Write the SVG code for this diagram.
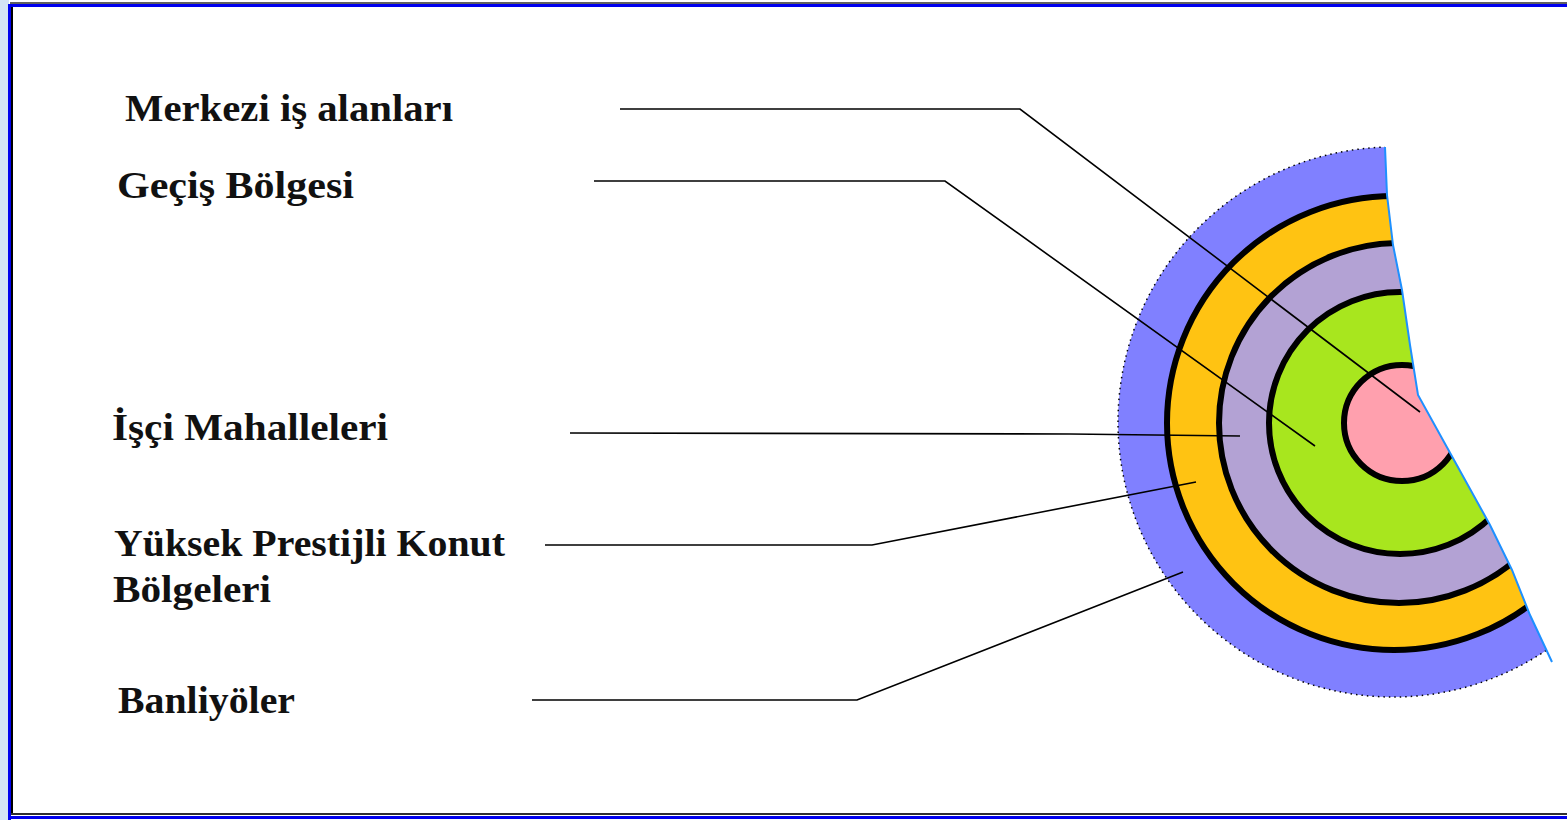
<svg xmlns="http://www.w3.org/2000/svg" width="1567" height="820" viewBox="0 0 1567 820">
  <style>
    .lbl { font-family: "Liberation Serif", "Times New Roman", serif; font-weight: bold; font-size: 38px; fill: #111; }
    .lead { fill: none; stroke: #000; stroke-width: 1.6; }
    .ring { stroke: #000; stroke-width: 6; }
  </style>
  <defs>
    <clipPath id="cut">
      <polygon points="1000,100 1385,100 1385,147 1387,195 1393,245 1402,290 1410,345 1418,395 1454,460 1490,525 1512,570 1530,615 1552,662 1552,730 1000,730"/>
    </clipPath>
  </defs>
  <rect x="0" y="0" width="1567" height="820" fill="#ffffff"/>
  <g id="frame">
    <rect x="0" y="0" width="9" height="820" fill="#d4e3f5"/>
    <line x1="10" y1="3" x2="1567" y2="3" stroke="#606060" stroke-width="2"/>
    <line x1="10" y1="5.5" x2="1567" y2="5.5" stroke="#0000ee" stroke-width="3"/>
    <line x1="9.5" y1="4" x2="9.5" y2="820" stroke="#0000ee" stroke-width="3"/>
    <line x1="12" y1="7" x2="12" y2="815" stroke="#000" stroke-width="2"/>
    <line x1="11" y1="814" x2="1567" y2="814" stroke="#303030" stroke-width="2"/>
    <line x1="9" y1="817.5" x2="1567" y2="817.5" stroke="#0000ee" stroke-width="3"/>
  </g>
  <g id="zones" clip-path="url(#cut)">
    <circle id="zone-banliyoler" cx="1393" cy="422" r="275" fill="#8080ff" stroke="#000" stroke-width="1.5" stroke-dasharray="1.5 4"/>
    <circle id="zone-prestij" class="ring" cx="1394" cy="423" r="227" fill="#ffc312"/>
    <circle id="zone-isci" class="ring" cx="1399" cy="423" r="180" fill="#b3a2d4"/>
    <circle id="zone-gecis" class="ring" cx="1400" cy="423" r="131" fill="#a8e61e"/>
    <circle id="zone-merkez" class="ring" cx="1402" cy="423" r="58" fill="#ffa0ae"/>
  </g>
  <polyline id="cut-edge" points="1385,147 1387,195 1393,245 1402,290 1410,345 1418,395 1454,460 1490,525 1512,570 1530,615 1552,662" fill="none" stroke="#1e90ff" stroke-width="2"/>
  <g id="connectors">
    <polyline class="lead" points="620,109 1020,109 1420,412"/>
    <polyline class="lead" points="594,181 945,181 1315,446"/>
    <polyline class="lead" points="570,433 1070,434 1240,436"/>
    <polyline class="lead" points="545,545 872,545 1196,482"/>
    <polyline class="lead" points="532,700 857,700 1183,572"/>
  </g>
  <g id="label-merkezi"><text class="lbl" x="125" y="121" textLength="328" lengthAdjust="spacingAndGlyphs">Merkezi iş alanları</text></g>
  <g id="label-gecis"><text class="lbl" x="117" y="198" textLength="237" lengthAdjust="spacingAndGlyphs">Geçiş Bölgesi</text></g>
  <g id="label-isci"><text class="lbl" x="112" y="440" textLength="276" lengthAdjust="spacingAndGlyphs">İşçi Mahalleleri</text></g>
  <g id="label-yuksek">
    <text class="lbl" x="114" y="556" textLength="391" lengthAdjust="spacingAndGlyphs">Yüksek Prestijli Konut</text>
    <text class="lbl" x="113" y="602" textLength="158" lengthAdjust="spacingAndGlyphs">Bölgeleri</text>
  </g>
  <g id="label-banliyoler"><text class="lbl" x="118" y="713" textLength="177" lengthAdjust="spacingAndGlyphs">Banliyöler</text></g>
</svg>
